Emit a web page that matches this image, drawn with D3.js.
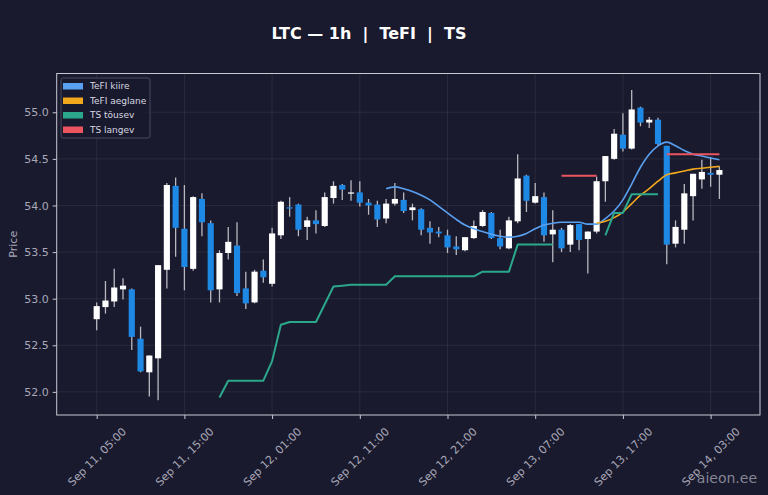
<!DOCTYPE html>
<html><head><meta charset="utf-8">
<script src="https://cdn.jsdelivr.net/npm/d3@7"></script>
<style>html,body{margin:0;padding:0;background:#1a1a2e;}svg{display:block}</style>
</head><body><svg id="c" width="768" height="495"></svg>
<script>
// ---- data ----
const startTime = "2025-09-11T05:00"; // first hourly candle
const openP  = [52.78,52.91,52.97,53.10,53.10,52.57,52.21,52.36,53.31,54.21,53.75,53.32,54.07,53.81,53.10,53.49,53.57,53.11,52.96,53.30,53.16,53.68,53.98,54.01,53.77,53.84,53.78,54.08,54.22,54.13,54.14,54.03,54.01,53.86,54.02,54.06,53.95,53.96,53.76,53.72,53.68,53.56,53.52,53.65,53.78,53.92,53.65,53.54,53.83,54.32,54.03,54.09,53.69,53.74,53.58,53.80,53.64,53.72,54.26,54.50,54.76,54.61,55.05,54.89,54.92,54.64,53.59,53.74,54.10,54.28,54.35,54.33];
const highP  = [52.96,53.19,53.32,53.22,53.11,52.70,52.39,53.36,54.24,54.30,54.22,54.10,54.13,53.84,53.52,53.77,53.82,53.29,53.31,53.42,53.76,54.05,54.09,54.02,53.88,53.95,54.14,54.26,54.23,54.27,54.26,54.07,54.05,54.07,54.24,54.14,54.02,53.97,53.83,53.77,53.74,53.67,53.66,53.84,53.95,53.93,53.74,53.88,54.55,54.33,54.24,54.14,53.95,53.76,53.80,53.80,53.72,54.31,54.53,54.82,54.99,55.24,55.06,54.95,54.94,54.64,53.84,54.23,54.34,54.49,54.52,54.42];
const lowP   = [52.66,52.84,52.91,52.99,52.45,52.21,51.95,51.91,53.11,53.45,53.09,53.30,53.67,52.96,52.96,53.42,53.03,52.89,52.95,53.17,53.13,53.64,53.88,53.67,53.63,53.70,53.77,54.02,54.06,54.05,53.99,53.90,53.77,53.81,54.00,53.92,53.84,53.68,53.59,53.66,53.49,53.47,53.51,53.64,53.77,53.64,53.53,53.53,53.81,53.93,54.02,53.61,53.39,53.50,53.50,53.52,53.27,53.70,54.04,54.49,54.58,54.60,54.85,54.83,54.65,53.37,53.55,53.59,53.84,54.18,54.20,54.07];
const closeP = [52.92,52.98,53.12,53.14,52.59,52.22,52.39,53.36,54.22,53.76,53.34,54.09,53.82,53.09,53.49,53.61,53.06,52.95,53.29,53.23,53.70,54.04,53.97,53.74,53.84,53.80,54.09,54.21,54.17,54.14,54.03,54.00,53.85,54.02,54.07,53.94,53.98,53.74,53.71,53.70,53.55,53.53,53.66,53.78,53.93,53.65,53.56,53.84,54.29,54.05,54.10,53.68,53.74,53.54,53.79,53.63,53.72,54.26,54.53,54.77,54.61,55.03,54.89,54.92,54.66,53.58,53.77,54.13,54.34,54.36,54.33,54.38];
const _ = null;
const tefiFast = [_,_,_,_,_,_,_,_,_,_,_,_,_,_,_,_,_,_,_,_,_,_,_,_,_,_,_,_,_,_,_,_,_,
  54.18,54.20,54.18,54.15,54.11,54.06,53.99,53.92,53.85,53.79,53.75,53.72,53.69,53.67,53.66,53.67,53.70,53.75,53.79,53.81,53.82,53.82,53.82,53.80,53.80,53.86,53.94,54.06,54.23,54.41,54.55,54.64,54.68,54.64,54.59,54.55,54.53,54.51,54.49];
const tefiSlow = [_,_,_,_,_,_,_,_,_,_,_,_,_,_,_,_,_,_,_,_,_,_,_,_,_,_,_,_,_,_,_,_,_,_,_,_,_,_,_,_,_,_,_,_,_,_,_,_,_,_,_,_,_,_,_,_,_,
  53.81,53.83,53.87,53.93,54.02,54.11,54.18,54.26,54.33,54.35,54.37,54.39,54.40,54.41,54.42];
const tsUp = [_,_,_,_,_,_,_,_,_,_,_,_,_,_,
  51.94,52.12,52.12,52.12,52.12,52.12,52.33,52.72,52.75,52.75,52.75,52.75,52.94,53.13,53.14,53.15,53.15,53.15,53.15,53.15,53.24,53.24,53.24,53.24,53.24,53.24,53.24,53.24,53.24,53.24,53.29,53.29,53.29,53.29,53.58,53.58,53.58,53.58,53.58,
  _,_,_,_,_,53.68,53.92,53.92,54.12,54.12,54.12,54.12,_,_,_,_,_,_,_];
const tsDown = [_,_,_,_,_,_,_,_,_,_,_,_,_,_,_,_,_,_,_,_,_,_,_,_,_,_,_,_,_,_,_,_,_,_,_,_,_,_,_,_,_,_,_,_,_,_,_,_,_,_,_,_,_,
  54.32,54.32,54.32,54.32,54.32,_,_,_,_,_,_,_,54.55,54.55,54.55,54.55,54.55,54.55,54.55];
const xTickTimes = ["2025-09-11T05:00","2025-09-11T15:00","2025-09-12T01:00","2025-09-12T11:00","2025-09-12T21:00","2025-09-13T07:00","2025-09-13T17:00","2025-09-14T03:00"];
const yTicks = [52.0,52.5,53.0,53.5,54.0,54.5,55.0];
const seriesNames = ["TeFI kiire","TeFI aeglane","TS tõusev","TS langev"];
const seriesColors = ["#5aa0f0","#f2a81d","#2ba88b","#eb5560"];

// ---- chart ----
const svg = d3.select("#c");
const P = {left:56.7, right:760, top:73.5, bottom:415};
const parse = d3.timeParse("%Y-%m-%dT%H:%M");
const t0 = parse(startTime);
const times = openP.map((d,i)=>d3.timeHour.offset(t0,i));
const H = 3600e3;
const x = d3.scaleTime().domain([new Date(+t0-4.56*H), new Date(+t0+75.63*H)]).range([P.left,P.right]);
const y = d3.scaleLinear().domain([51.752,55.416]).range([P.bottom,P.top]);
const font = "DejaVu Sans, sans-serif";

svg.append("rect").attr("width",768).attr("height",495).attr("fill","#1a1a2e");

const xt = xTickTimes.map(parse);
// grid
const g = svg.append("g");
g.selectAll(".gx").data(xt).join("line").attr("x1",d=>x(d)).attr("x2",d=>x(d)).attr("y1",P.top).attr("y2",P.bottom)
  .attr("stroke","#ffffff").attr("stroke-opacity",0.07).attr("stroke-width",1);
g.selectAll(".gy").data(yTicks).join("line").attr("y1",d=>y(d)).attr("y2",d=>y(d)).attr("x1",P.left).attr("x2",P.right)
  .attr("stroke","#ffffff").attr("stroke-opacity",0.07).attr("stroke-width",1);

// candles
const bw = (x(times[1])-x(times[0]))*0.7;
const cg = svg.append("g");
cg.selectAll(".w").data(times).join("line")
  .attr("x1",(d)=>x(d)).attr("x2",d=>x(d))
  .attr("y1",(d,i)=>y(highP[i])).attr("y2",(d,i)=>y(lowP[i]))
  .attr("stroke","#b8b8c0").attr("stroke-width",1.3);
cg.selectAll(".b").data(times).join("rect")
  .attr("x",d=>x(d)-bw/2).attr("width",bw)
  .attr("y",(d,i)=>y(Math.max(openP[i],closeP[i])))
  .attr("height",(d,i)=>Math.max(1.2, Math.abs(y(openP[i])-y(closeP[i]))))
  .attr("fill",(d,i)=>closeP[i]>=openP[i]?"#ffffff":"#1e88e5");

// lines
const curves = [d3.curveMonotoneX,d3.curveMonotoneX,d3.curveLinear,d3.curveLinear];
const allSeries = [tefiFast,tefiSlow,tsUp,tsDown];
const widths = [1.6,1.6,2,2];
allSeries.forEach((s,k)=>{
  const lineGen = d3.line().defined(d=>d[1]!=null).x(d=>x(d[0])).y(d=>y(d[1])).curve(curves[k]);
  svg.append("path").datum(times.map((t,i)=>[t,s[i]]))
    .attr("d",lineGen).attr("fill","none").attr("stroke",seriesColors[k]).attr("stroke-width",widths[k])
    .attr("stroke-linejoin","round");
});

// frame
svg.append("rect").attr("x",P.left).attr("y",P.top).attr("width",P.right-P.left).attr("height",P.bottom-P.top)
  .attr("fill","none").attr("stroke","#c8c8d4").attr("stroke-width",1);

// x axis
const xAxis = d3.axisBottom(x).tickValues(xt).tickFormat(d3.timeFormat("%b %d, %H:%M")).tickSize(4).tickPadding(0);
const gx = svg.append("g").attr("transform",`translate(0,${P.bottom})`).call(xAxis);
gx.select(".domain").remove();
gx.selectAll(".tick line").attr("stroke","#c8c8d4");
gx.selectAll(".tick text").each(function(){
  const t = d3.select(this);
  t.attr("font-family",font).attr("font-size",11).attr("fill","#a8a8b8")
   .attr("text-anchor","middle").attr("dominant-baseline","central").attr("dy",null);
  const L = this.getComputedTextLength();
  const half = (L+11)*0.7071/2;
  t.attr("y",null).attr("transform",`translate(0,${11+half}) rotate(-45)`);
});

// y axis
const yAxis = d3.axisLeft(y).tickValues(yTicks).tickFormat(d3.format(".1f")).tickSize(4).tickPadding(4);
const gy = svg.append("g").attr("transform",`translate(${P.left},0)`).call(yAxis);
gy.select(".domain").remove();
gy.selectAll(".tick line").attr("stroke","#c8c8d4");
gy.selectAll(".tick text").attr("font-family",font).attr("font-size",11).attr("fill","#a8a8b8");

svg.append("text").attr("transform",`translate(17,${(P.top+P.bottom)/2}) rotate(-90)`)
  .attr("text-anchor","middle").attr("font-family",font).attr("font-size",11).attr("fill","#a8a8b8").text("Price");

// title
svg.append("text").attr("x",369).attr("y",38.5).attr("text-anchor","middle")
  .attr("font-family",font).attr("font-size",16).attr("font-weight","bold").attr("fill","#ffffff")
  .style("white-space","pre").text("LTC — 1h  |  TeFI  |  TS");

// legend
const lg = svg.append("g");
lg.append("rect").attr("x",61).attr("y",78).attr("width",89).attr("height",60).attr("rx",2)
  .attr("fill","#1a1a2e").attr("fill-opacity",0.85).attr("stroke","#48485e").attr("stroke-width",1);
seriesNames.forEach((n,k)=>{
  const yy = 86 + k*14.5;
  lg.append("rect").attr("x",63).attr("y",yy-3).attr("width",20).attr("height",6.5).attr("fill",seriesColors[k]);
  lg.append("text").attr("x",90).attr("y",yy+3.2).attr("font-family",font).attr("font-size",9).attr("fill","#d8d8e0").text(n);
});

// watermark
svg.append("text").attr("x",757).attr("y",483).attr("text-anchor","end").attr("font-family",font)
  .attr("font-size",14).attr("fill","#9a9aa8").attr("fill-opacity",0.85).text("aieon.ee");
</script></body></html>
